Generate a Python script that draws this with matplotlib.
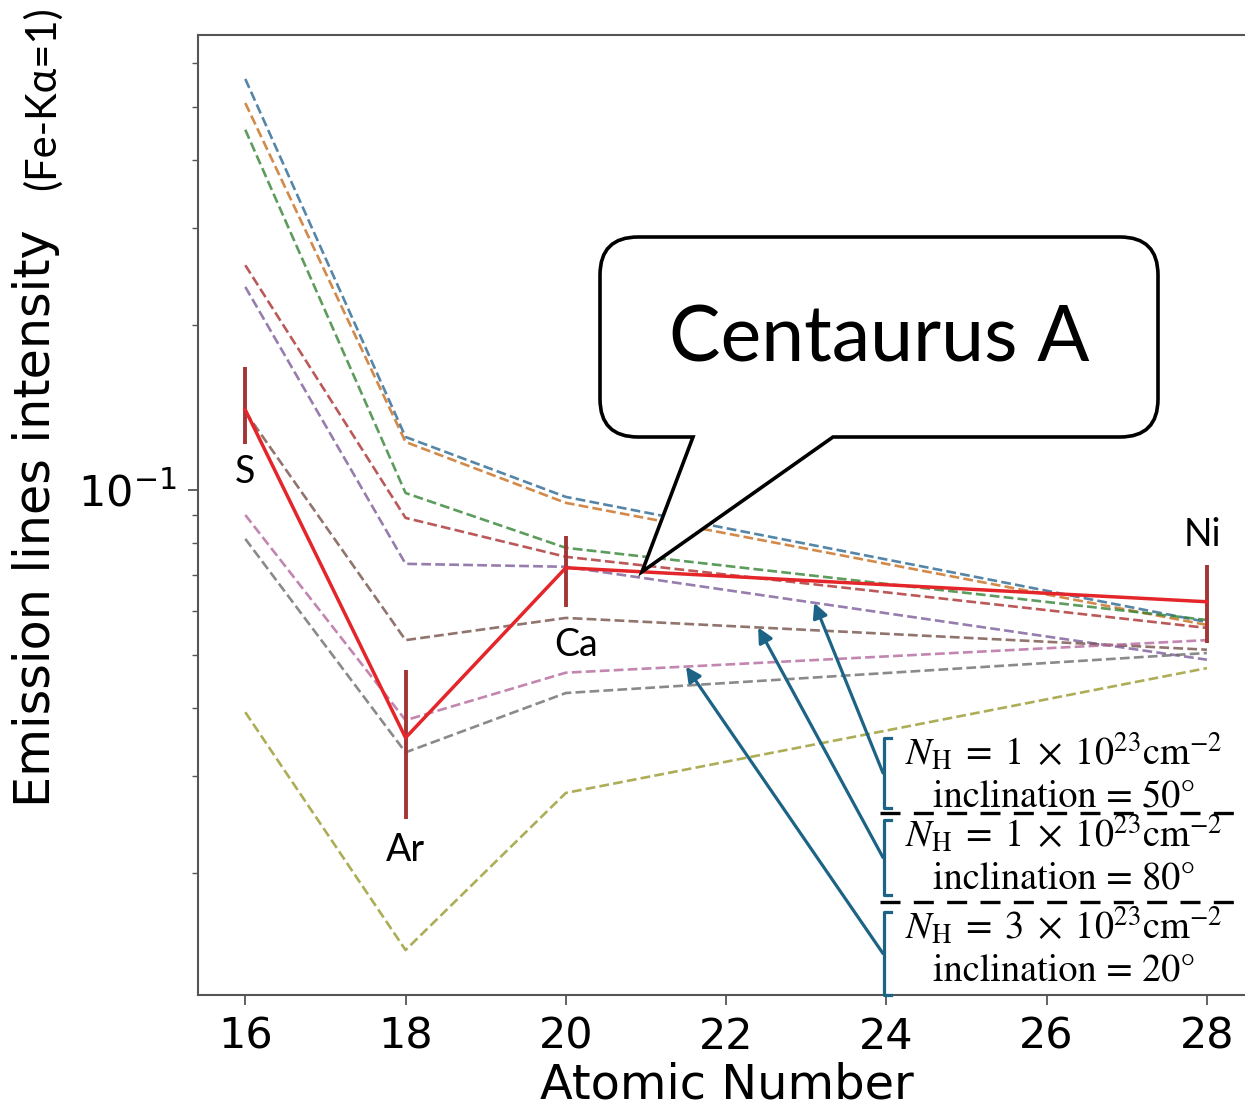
import numpy as np
import matplotlib
matplotlib.use("Agg")
import matplotlib.pyplot as plt
import matplotlib.colors as mcolors
from matplotlib.path import Path
from matplotlib.patches import PathPatch, FancyArrowPatch
from matplotlib.lines import Line2D

# Elements with measured lines and their atomic numbers
elements = ["S", "Ar", "Ca", "Ni"]
atomic_number = [16, 18, 20, 28]

# Centaurus A: line intensity relative to Fe-Kα, with lower / upper bounds
obs_value = [0.140, 0.0353, 0.0721, 0.0625]
obs_lower = [0.1213, 0.0251, 0.0612, 0.0526]
obs_upper = [0.1677, 0.0469, 0.0824, 0.0730]

# Torus model predictions (one curve per parameter set)
model_C0 = [0.562, 0.1249, 0.0971, 0.0574]
model_C1 = [0.508, 0.1223, 0.0947, 0.0567]
model_C2 = [0.454, 0.0987, 0.0784, 0.0579]
model_C3 = [0.257, 0.0889, 0.0755, 0.0560]
model_C4 = [0.2346, 0.0733, 0.0724, 0.0490]
model_C5 = [0.1388, 0.0532, 0.0584, 0.0511]
model_C6 = [0.0900, 0.0380, 0.0464, 0.0532]
model_C7 = [0.0814, 0.0332, 0.0426, 0.0504]
model_C8 = [0.0393, 0.01447, 0.0280, 0.0473]
models = [model_C0, model_C1, model_C2, model_C3, model_C4,
          model_C5, model_C6, model_C7, model_C8]

# Highlighted models: index into models, atomic number where the arrow lands
nh_labels = [r"$N_\mathrm{H}\;=\;1\;\times\;10^{23}\mathrm{cm}^{-2}$",
             r"$N_\mathrm{H}\;=\;1\;\times\;10^{23}\mathrm{cm}^{-2}$",
             r"$N_\mathrm{H}\;=\;3\;\times\;10^{23}\mathrm{cm}^{-2}$"]
incl_labels = ["inclination = 50°",
               "inclination = 80°",
               "inclination = 20°"]
highlight_model = [4, 5, 6]
highlight_z = [23.1, 22.4, 21.5]

W, H = 1245, 1111
plt.rcParams["mathtext.fontset"] = "stix"
fig = plt.figure(figsize=(W / 100, H / 100), dpi=100)
fig.patch.set_facecolor("white")


def ff(x, y):
    """Figure fraction from pixel position measured from the top-left."""
    return (x / W, 1 - y / H)


def muted(c, k=0.3):
    """Blend a colour toward dark grey."""
    a = np.array(mcolors.to_rgb(c))
    g = np.array(mcolors.to_rgb("#444444"))
    return tuple((1 - k) * a + k * g)


ax = fig.add_axes([198 / W, (H - 995) / H, (1247 - 198) / W, (995 - 35) / H])
ax.set_yscale("log")
ax.set_xlim(15.41, 28.5)
ax.set_ylim(0.01198, 0.676)

tab = plt.rcParams["axes.prop_cycle"].by_key()["color"]
for i, m in enumerate(models):
    ax.plot(atomic_number, m, ls="--", lw=1.9, color=muted(tab[i]),
            alpha=0.8, zorder=2)

err = [np.array(obs_value) - np.array(obs_lower),
       np.array(obs_upper) - np.array(obs_value)]
ax.errorbar(atomic_number, obs_value, yerr=err, color="#e4262a", lw=2.5,
            ecolor="#a23636", elinewidth=2.8, capsize=0, zorder=4)

# Element names next to each measurement
offsets = [(0, 62), (0, 112), (10, 77), (-5, -67)]
for name, z, v, (dx, dy) in zip(elements, atomic_number, obs_value, offsets):
    ax.annotate(name, xy=(z, v), xytext=(dx, -dy), textcoords="offset pixels",
                ha="center", va="center", fontsize=27, family="Lato",
                zorder=6)

ax.set_xticks([16, 18, 20, 22, 24, 26, 28])
ax.tick_params(axis="both", which="major", labelsize=31, length=7, width=1.3,
               color="#555555", pad=8)
ax.tick_params(axis="y", which="minor", length=4, width=1.0, color="#555555")
ax.yaxis.set_minor_formatter(matplotlib.ticker.NullFormatter())
for s in ax.spines.values():
    s.set_color("#555555")
    s.set_linewidth(1.5)

fig.text(*ff(727, 1085), "Atomic Number", fontsize=34.5, ha="center", va="center")
fig.text(*ff(36, 518), "Emission lines intensity", fontsize=35.5, rotation=90,
         ha="center", va="center")
fig.text(*ff(42, 98), "(Fe-Kα=1)", fontsize=30, family="Lato", rotation=90,
         ha="center", va="center")

# Speech-bubble callout pointing at the Centaurus A curve
fig.canvas.draw()
z_tip = 20.95
v_tip = 10 ** np.interp(z_tip, atomic_number, np.log10(obs_value))
tx, ty = ax.transData.transform((z_tip, v_tip))
L, R, T, B, r = 600, 1158, H - 237, H - 437, 38
verts = [(693, B), (tx, ty), (833, B), (R - r, B), (R, B), (R, B + r),
         (R, T - r), (R, T), (R - r, T), (L + r, T), (L, T), (L, T - r),
         (L, B + r), (L, B), (L + r, B), (693, B)]
codes = [Path.MOVETO, Path.LINETO, Path.LINETO, Path.LINETO,
         Path.CURVE3, Path.CURVE3, Path.LINETO, Path.CURVE3, Path.CURVE3,
         Path.LINETO, Path.CURVE3, Path.CURVE3, Path.LINETO,
         Path.CURVE3, Path.CURVE3, Path.CLOSEPOLY]
verts = [(x / W, y / H) for x, y in verts]
bubble = PathPatch(Path(verts, codes), facecolor="white", edgecolor="black",
                   lw=2.6, transform=fig.transFigure, zorder=10)
fig.add_artist(bubble)
fig.text(*ff(879, 340), "Centaurus A", fontsize=55.5, family="Lato",
         ha="center", va="center", zorder=11)

# Parameter labels with brackets and arrows to their model curves
teal = "#1d6385"
block_top = [738, 820, 912]
block_bot = [808, 895, 995]
for k in range(3):
    yt, yb = block_top[k], block_bot[k]
    xs = [891, 884, 884, 891]
    ys = [yt, yt, yb, yb]
    fig.add_artist(Line2D([x / W for x in xs], [1 - y / H for y in ys],
                          color=teal, lw=2.3, transform=fig.transFigure))
    fig.text(*ff(1064, yt + 14), nh_labels[k], fontsize=27.5,
             ha="center", va="center")
    fig.text(*ff(1064, yt + 59), incl_labels[k], fontsize=27.5,
             family="STIXGeneral", ha="center", va="center")
    m = models[highlight_model[k]]
    zt = highlight_z[k]
    vt = 10 ** np.interp(zt, atomic_number, np.log10(m))
    px, py = ax.transData.transform((zt, vt))
    start = (883 / W, 1 - ((yt + yb) / 2) / H)
    arr = FancyArrowPatch(start, (px / W, py / H), arrowstyle="-|>",
                          mutation_scale=22, lw=2.3, color=teal,
                          transform=fig.transFigure, shrinkA=0, shrinkB=0,
                          zorder=8)
    fig.add_artist(arr)

for ysep in [813, 902]:
    fig.add_artist(Line2D([880 / W, 1.0], [1 - ysep / H] * 2,
                          color="black", lw=2.4, ls=(0, (6, 4)),
                          transform=fig.transFigure))

fig.savefig("out.png", dpi=100, facecolor="white")
